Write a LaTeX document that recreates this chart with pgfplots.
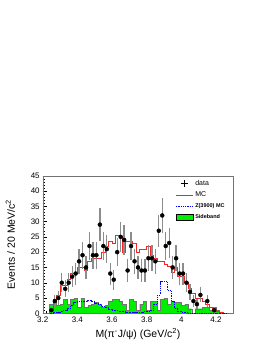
\documentclass[border=0pt]{standalone}
\usepackage{fontspec}
\setmainfont{Liberation Sans}
\usepackage{pgfplots}
\pgfplotsset{compat=1.18}
\usepackage{pgfplotstable}

\pgfplotstableread{
xl mc z sb
3.24 0 0 0
3.24 1 0 3
3.26 4 0.2 4.5
3.28 6 0.3 2.5
3.30 9 0.5 3
3.32 9 1 4.5
3.34 11 1.5 3
3.36 13 2.5 4.5
3.38 13 3.5 5
3.40 15 3.8 2
3.42 15 3.8 5
3.44 14 4 2
3.46 17 4.3 2.5
3.48 18 3.8 3
3.50 18 3.2 3.5
3.52 18 2.8 3
3.54 20 2.2 2
3.56 22 1.8 2.5
3.58 23.5 1.2 4
3.60 23 1 4.5
3.62 25.5 0.8 4.5
3.64 25 0.6 4
3.66 20 0.5 3
3.68 23.5 0.4 1
3.70 23.5 0.3 4.5
3.72 23 0.3 4
3.74 20 0.4 1
3.76 21 0.4 3
3.78 21 0.5 4
3.80 22 0.6 1
3.82 19 1 4
3.84 18 3 4
3.86 17 6 1
3.88 17 10.3 4.5
3.90 16 10.3 5
3.92 15.5 7.5 3
3.94 13.5 4 4
3.96 15 1.5 3.5
3.98 12 0.7 3.5
4.00 12 0.3 2.5
4.02 10 0.2 3
4.04 8 0.1 1.5
4.06 6.5 0 0
4.08 5 0 1.5
4.10 5 0 1.5
4.12 4 0 2
4.14 3 0 2
4.16 2 0 1
4.18 1 0 2
4.20 0.6 0 1
4.22 0.3 0 0.5
4.24 0.1 0 0
4.26 0 0 0
}\hist

\pgfplotstableread{
x n e
3.25 1 1
3.27 4 2
3.29 5 2.24
3.31 10 3.16
3.33 8 2.83
3.35 10 3.16
3.37 12 3.46
3.39 13 3.61
3.41 17 4.12
3.43 19 4.36
3.45 15 3.87
3.47 22 4.69
3.49 19 4.36
3.51 19 4.36
3.53 29 5.39
3.55 22 4.69
3.57 21 4.58
3.59 13 3.61
3.61 11 3.32
3.63 20 4.47
3.65 25 5
3.67 24 4.9
3.69 14 3.74
3.71 22 4.69
3.73 17 4.12
3.75 15 3.87
3.77 14 3.74
3.79 14 3.74
3.81 18 4.24
3.83 18 4.24
3.85 17 4.12
3.87 27 5.2
3.89 32 5.66
3.91 22 4.69
3.93 23 4.8
3.95 15 3.87
3.97 18 4.24
3.99 13 3.61
4.01 13 3.61
4.03 10 3.16
4.05 7 2.65
4.07 4 2
4.09 3 1.73
4.11 6 2.45
4.15 4 2
4.19 1 1
}\data

\definecolor{sbgreen}{RGB}{0,238,0}
\definecolor{mcred}{RGB}{240,40,40}

\begin{document}
\begin{tikzpicture}
\path[use as bounding box] (-42.7bp,-30.7bp) rectangle (223.3bp,313.3bp);
\begin{axis}[
  at={(0,0)}, anchor=south west,
  scale only axis,
  width=190.6bp, height=137.6bp,
  xmin=3.2, xmax=4.3, ymin=0, ymax=45,
  xtick={3.2,3.4,3.6,3.8,4.0,4.2},
  xticklabels={3.2,3.4,3.6,3.8,4,4.2},
  ytick={0,5,10,15,20,25,30,35,40,45},
  minor x tick num=9,
  minor y tick num=4,
  xtick pos=left, ytick pos=left,
  tick align=inside,
  major tick length=4bp, minor tick length=2bp,
  axis line style={black!55},
  every tick/.style={black},
  /pgf/number format/assume math mode=true,
  tick label style={font=\fontsize{8}{9}\selectfont},
  yticklabel style={xshift=0.5bp},
  xlabel={M(π\textsuperscript{-}J/ψ) (GeV/c\textsuperscript{2})},
  ylabel={Events / 20 MeV/c\textsuperscript{2}},
  label style={font=\fontsize{10.5}{12}\selectfont},
  xlabel style={at={(axis description cs:0.5,-0.15)}, anchor=center},
  ylabel style={at={(axis description cs:-0.17,0.5)}, anchor=center},
  legend style={at={(0.69,0.99)}, anchor=north west, draw=none, fill=none,
    font=\fontsize{7}{8}\selectfont, row sep=1.2bp, inner sep=1bp},
  legend cell align=left,
]
\addplot[const plot mark left, fill=sbgreen, draw=black!55, line width=0.4pt, forget plot]
  table[x=xl, y=sb] {\hist} \closedcycle;
\addplot[const plot mark left, color=mcred, line width=0.8pt, forget plot]
  table[x=xl, y=mc] {\hist};
\addplot[const plot mark left, color=blue, line width=0.8pt, dash pattern=on 1pt off 0.8pt, forget plot]
  table[x=xl, y=z] {\hist};
\addplot[only marks, mark=none, forget plot,
  error bars/.cd, y dir=both, y explicit,
  error bar style={black!45, line width=1.3pt}, error mark=none]
  table[x=x, y=n, y error=e] {\data};
\addplot[only marks, mark=*, mark size=0.9pt, black, forget plot]
  table[x=x, y=n] {\data};
\addlegendimage{only marks, mark=+, mark size=3.5pt, color=black, mark options={line width=0.7pt}}
\addlegendentry{data}
\addlegendimage{draw=mcred, color=mcred, line width=0.9pt, mark=none}
\addlegendentry{MC}
\addlegendimage{draw=blue, color=blue, line width=0.9pt, mark=none, dash pattern=on 1pt off 0.8pt}
\addlegendentry{\fontsize{5.5}{6}\selectfont\bfseries Z(3900) MC}
\addlegendimage{area legend, fill=sbgreen, draw=black}
\addlegendentry{\fontsize{5.5}{6}\selectfont\bfseries Sideband}
\end{axis}
\end{tikzpicture}
\end{document}
